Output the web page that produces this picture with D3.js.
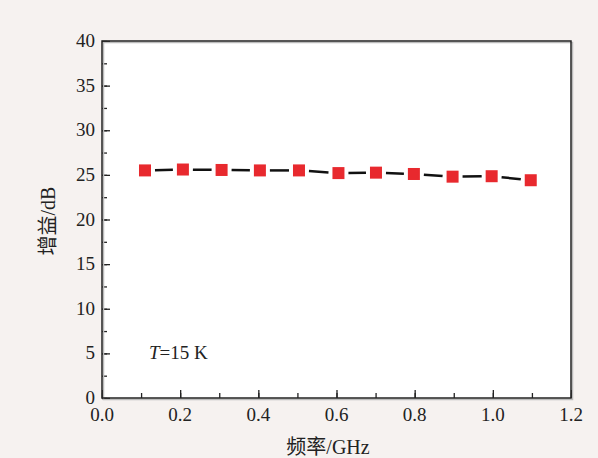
<!DOCTYPE html>
<html>
<head>
<meta charset="utf-8">
<script src="https://cdn.jsdelivr.net/npm/d3@7"></script>
<style>
  body { margin: 0; background: #f6f2f0; }
  svg { display: block; }
</style>
</head>
<body>
<svg id="canvas"></svg>
<script>
let freq = [0.11, 0.207, 0.306, 0.404, 0.504, 0.605, 0.701, 0.798, 0.897, 0.997, 1.097];
let gain = [25.5, 25.6, 25.55, 25.5, 25.5, 25.2, 25.25, 25.1, 24.8, 24.85, 24.4];
let xTicks = [0.0, 0.2, 0.4, 0.6, 0.8, 1.0, 1.2];
let yTicks = [0, 5, 10, 15, 20, 25, 30, 35, 40];

let width = 598, height = 458;
let pLeft = 102, pRight = 571, pTop = 41, pBottom = 398;
let font = "'Liberation Serif', 'Times New Roman', 'Noto Sans CJK SC', serif";

let svg = d3.select("#canvas").attr("width", width).attr("height", height);

let x = d3.scaleLinear().domain([0, 1.2]).range([pLeft, pRight]);
let y = d3.scaleLinear().domain([0, 40]).range([pBottom, pTop]);

// plot background
svg.append("rect")
  .attr("x", pLeft).attr("y", pTop)
  .attr("width", pRight - pLeft).attr("height", pBottom - pTop)
  .attr("fill", "#ffffff");

// axes with inward ticks
let xMinor = d3.range(0, 1.21, 0.1);
let yMinor = d3.range(0, 40.1, 2.5);

svg.append("g")
  .attr("transform", "translate(0," + pBottom + ")")
  .call(d3.axisTop(x).tickValues(xMinor).tickSize(5).tickFormat(""))
  .call(g => g.select(".domain").remove());
svg.append("g")
  .attr("transform", "translate(0," + pBottom + ")")
  .call(d3.axisTop(x).tickValues(xTicks).tickSize(8).tickFormat(""))
  .call(g => g.select(".domain").remove());
svg.append("g")
  .attr("transform", "translate(" + pLeft + ",0)")
  .call(d3.axisRight(y).tickValues(yMinor).tickSize(5).tickFormat(""))
  .call(g => g.select(".domain").remove());
svg.append("g")
  .attr("transform", "translate(" + pLeft + ",0)")
  .call(d3.axisRight(y).tickValues(yTicks).tickSize(8).tickFormat(""))
  .call(g => g.select(".domain").remove());

svg.selectAll(".tick line").attr("stroke", "#222").attr("stroke-width", 1.3);

// tick labels
svg.append("g").selectAll("text")
  .data(xTicks).enter().append("text")
  .attr("x", d => x(d))
  .attr("y", pBottom + 23)
  .attr("text-anchor", "middle")
  .attr("font-family", font).attr("font-size", 19).attr("fill", "#222")
  .text(d => d.toFixed(1));

svg.append("g").selectAll("text")
  .data(yTicks).enter().append("text")
  .attr("x", pLeft - 7)
  .attr("y", d => y(d) + 6)
  .attr("text-anchor", "end")
  .attr("font-family", font).attr("font-size", 19).attr("fill", "#222")
  .text(d => d);

// frame
svg.append("rect")
  .attr("x", pLeft + 1.5).attr("y", pTop + 1.5)
  .attr("width", pRight - pLeft).attr("height", pBottom - pTop)
  .attr("fill", "none").attr("stroke", "#bbb").attr("stroke-width", 1.5);
svg.append("rect")
  .attr("x", pLeft).attr("y", pTop)
  .attr("width", pRight - pLeft).attr("height", pBottom - pTop)
  .attr("fill", "none").attr("stroke", "#222").attr("stroke-width", 1.5);

// line segments with gaps around symbols
let pts = freq.map((f, i) => [x(f), y(gain[i])]);
let gap = 10;
let segs = [];
for (let i = 0; i < pts.length - 1; i++) {
  let a = pts[i], b = pts[i + 1];
  let dx = b[0] - a[0], dy = b[1] - a[1];
  let len = Math.sqrt(dx * dx + dy * dy);
  let ux = dx / len, uy = dy / len;
  segs.push([[a[0] + ux * gap, a[1] + uy * gap], [b[0] - ux * gap, b[1] - uy * gap]]);
}
svg.append("g").selectAll("line")
  .data(segs).enter().append("line")
  .attr("x1", d => d[0][0]).attr("y1", d => d[0][1])
  .attr("x2", d => d[1][0]).attr("y2", d => d[1][1])
  .attr("stroke", "#111").attr("stroke-width", 2.5);

// symbols
let s = 12;
svg.append("g").selectAll("rect")
  .data(freq).enter().append("rect")
  .attr("x", (d, i) => x(d) - s / 2)
  .attr("y", (d, i) => y(gain[i]) - s / 2)
  .attr("width", s).attr("height", s)
  .attr("fill", "#e8292e");

// annotation
let ann = svg.append("text")
  .attr("x", 149).attr("y", 359)
  .attr("font-family", font).attr("font-size", 19).attr("fill", "#222");
ann.append("tspan").attr("font-style", "italic").text("T");
ann.append("tspan").text("=15 K");

// axis titles
svg.append("text")
  .attr("x", 328).attr("y", 454)
  .attr("text-anchor", "middle")
  .attr("font-family", font).attr("font-size", 20).attr("fill", "#222")
  .text("频率/GHz");

svg.append("text")
  .attr("transform", "translate(55,221) rotate(-90)")
  .attr("text-anchor", "middle")
  .attr("font-family", font).attr("font-size", 20).attr("fill", "#222")
  .text("增益/dB");
</script>
</body>
</html>
